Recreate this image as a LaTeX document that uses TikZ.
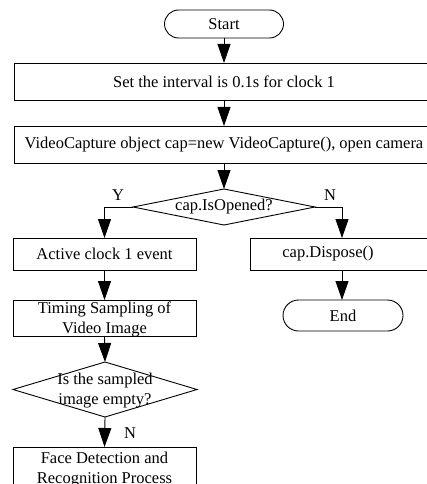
\documentclass[tikz,border=0pt]{standalone}
\usepackage{fontspec}
\setmainfont{Liberation Serif}
\usetikzlibrary{arrows.meta,shapes.geometric,shapes.misc}
\begin{document}
\begin{tikzpicture}[x=1pt,y=-1pt,
  shp/.style={draw,line width=0.9pt,inner sep=0pt,outer sep=0pt},
  boxshape/.style={shp,rectangle},
  term/.style={shp,rounded rectangle},
  dia/.style={shp,diamond},
  txt/.style={inner sep=0pt,align=center,font=\fontsize{16.5}{20.5}\selectfont},
  flow/.style={draw,line width=0.9pt,-{Triangle[length=19pt,width=13pt]}}]
\useasboundingbox (0,0) rectangle (427,484);
\clip (0,0) rectangle (427,484);
% shapes
\node[term,minimum width=119,minimum height=28] (start) at (224,24) {};
\node[txt] (startt) at (start) {Start};
\node[boxshape,minimum width=420,minimum height=37] (b1) at (224,81.5) {};
\node[txt] (b1t) at (b1) {Set the interval is 0.1s for clock 1};
\node[boxshape,minimum width=420,minimum height=37] (b2) at (224,144.5) {};
\node[txt] (b2t) at (224,144.5) {VideoCapture object cap=new VideoCapture(), open camera};
\node[dia,minimum width=182,minimum height=36] (d1) at (224,207) {};
\node[txt] (d1t) at (d1) {cap.IsOpened?};
\node[boxshape,minimum width=183,minimum height=32] (act) at (104.5,254) {};
\node[txt] (actt) at (act) {Active clock 1 event};
\node[boxshape,minimum width=184,minimum height=32] (disp) at (342,254) {};
\node[txt] (dispt) at (328,254) {cap.Dispose()};
\node[term,minimum width=120,minimum height=31] (fin) at (343,315.5) {};
\node[txt] (fint) at (fin) {End};
\node[boxshape,minimum width=183,minimum height=36] (tim) at (104.5,318) {};
\node[txt] (timt) at (104.5,319.5) {Timing Sampling of\\Video Image};
\node[dia,minimum width=184,minimum height=55] (d2) at (105,389.5) {};
\node[txt] (d2t) at (105,390.5) {Is the sampled\\image empty?};
\node[boxshape,minimum width=183,minimum height=37] (face) at (104.5,465.5) {};
\node[txt] (facet) at (104.5,469.5) {Face Detection and\\Recognition Process};
% labels
\node[txt] (ylab) at (118,195) {Y};
\node[txt] (nlab1) at (330,195) {N};
\node[txt] (nlab2) at (130,433) {N};
% connectors
\draw[flow] (start.south) -- (b1.north);
\draw[flow] (b1.south) -- (b2.north);
\draw[flow] (b2.south) -- (d1.north);
\draw[flow] (d1.west) -| (act.north);
\draw[flow] (d1.east) -| (disp.north);
\draw[flow] (act.south) -- (tim.north);
\draw[flow] (disp.south) -- (disp.south |- fin.north);
\draw[flow] (tim.south) -- (d2.north);
\draw[flow] (d2.south) -- (face.north);
\end{tikzpicture}
\end{document}
